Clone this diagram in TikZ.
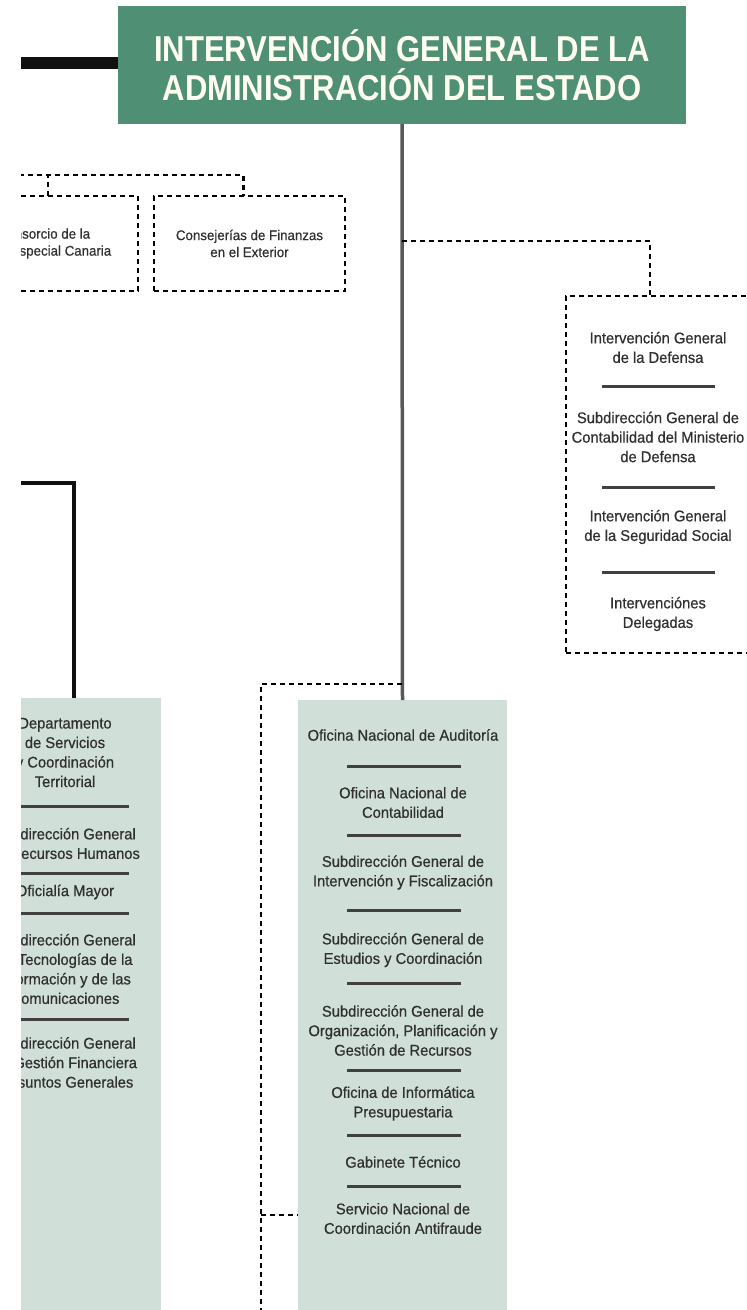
\documentclass[tikz,border=0pt]{standalone}
\usepackage{fontspec}
\setmainfont{Liberation Sans}[FakeStretch=0.95,FakeBold=0.6]
\newfontfamily\titlefont{Liberation Sans}[FakeStretch=0.862,BoldFont={Liberation Sans Bold}]
\definecolor{titlec}{HTML}{4F8F74}
\definecolor{titletext}{HTML}{FFFDF0}
\definecolor{panelc}{HTML}{D0E0D8}
\definecolor{txtc}{HTML}{303030}
\definecolor{sepc}{HTML}{404040}
\definecolor{linec}{HTML}{585858}
\definecolor{barc}{HTML}{111111}
\tikzset{
  every node/.style={inner sep=0pt, outer sep=0pt},
  txt/.style={align=center, text=txtc, font=\fontsize{15.5}{19.5}\selectfont},
  smalltxt/.style={align=center, text=txtc, font=\fontsize{14}{17}\selectfont},
  panel/.style={fill=panelc, draw=none},
  dline/.style={draw=black, dash pattern=on 5pt off 4pt, line width=2.5pt},
  dbox/.style={dline},
  sepline/.style={draw=sepc, line width=3pt},
  mainline/.style={draw=linec, line width=3.5pt},
  blackline/.style={draw=barc, line width=4.5pt},
}
\begin{document}
\begin{tikzpicture}[x=1pt,y=-1pt]
\useasboundingbox (0,0) rectangle (747,1310);
\begin{scope}
\clip (21,0) rectangle (747,1310);

% title
\node[fill=titlec, minimum width=568, minimum height=118, text=titletext, align=center,
      font=\titlefont\bfseries\fontsize{36}{39}\selectfont] (igae) at (402,65)
      {INTERVENCIÓN GENERAL DE LA\\ADMINISTRACIÓN DEL ESTADO};
\coordinate (bl) at (10,62.5);
\draw[draw=barc, line width=12pt] (bl) -- (bl -| igae.west);

% top dashed boxes
\node[dbox, smalltxt, minimum width=191, minimum height=95] (consej) at (249.5,243.5)
      {Consejerías de Finanzas\\en el Exterior};
\node[dbox, minimum width=180, minimum height=95] (consor) at (48,243.5) {};
\node[smalltxt] (consortxt) at (44,243.5) {Consorcio de la\\Zona Especial Canaria};
\coordinate (tl) at (10,175);
\draw[dline] (tl) -| ([xshift=-6pt]consej.north);
\draw[dline] (consor.north) -- (consor.north |- tl);

% panels
\node[panel, minimum width=209, minimum height=620, anchor=north west] (cpanel) at (298,700) {};
\node[panel, minimum width=200, minimum height=620, anchor=north east] (lpanel) at (161,698) {};

% main line
\draw[mainline] (igae.south) -- (cpanel.north);

% right dashed box
\path (igae.south) ++(0,117) coordinate (rj);
\node[dbox, minimum width=186, minimum height=357] (rbox) at (659,474.5) {};
\draw[dline] (rj) -| ([xshift=-9pt]rbox.north);
\node[txt] (r1) at (658,347.5) {Intervención General\\de la Defensa};
\node[txt] (r2) at (658,437) {Subdirección General de\\Contabilidad del Ministerio\\de Defensa};
\node[txt] (r3) at (658,527) {Intervención General\\de la Seguridad Social};
\node[txt] (r4) at (658,614) {Intervenciónes\\Delegadas};
\foreach \yy in {386,487,572} \draw[sepline] (602,\yy) -- (715,\yy);

% centre dashed connector
\path (igae.south) ++(0,560) coordinate (cj);
\coordinate (cb) at (261,1320);
\draw[dline] (cj) -| (cb);
\coordinate (stub) at (261,1215);
\draw[dline] (stub) -- (stub -| cpanel.west);

% centre panel texts
\node[txt] (c1) at (403,735) {Oficina Nacional de Auditoría};
\node[txt] (c2) at (403,802.5) {Oficina Nacional de\\Contabilidad};
\node[txt] (c3) at (403,872.5) {Subdirección General de\\Intervención y Fiscalización};
\node[txt] (c4) at (403,950) {Subdirección General de\\Estudios y Coordinación};
\node[txt] (c5) at (403,1030.5) {Subdirección General de\\Organización, Planificación y\\Gestión de Recursos};
\node[txt] (c6) at (403,1103.5) {Oficina de Informática\\Presupuestaria};
\node[txt] (c7) at (403,1162) {Gabinete Técnico};
\node[txt] (c8) at (403,1218.5) {Servicio Nacional de\\Coordinación Antifraude};
\foreach \yy in {766,835,910,983,1070,1135,1186} \draw[sepline] (347,\yy) -- (461,\yy);

% left panel
\coordinate (lc) at (10,483);
\draw[blackline] (lc) -| ([xshift=13pt]lpanel.north);
\node[txt] (l1) at (65,752.5) {Departamento\\de Servicios\\y Coordinación\\Territorial};
\node[txt] (l2) at (65,843.5) {Subdirección General\\de Recursos Humanos};
\node[txt] (l3) at (65,892) {Oficialía Mayor};
\node[txt] (l4) at (65,969) {Subdirección General\\de Tecnologías de la\\Información y de las\\Comunicaciones};
\node[txt] (l5) at (65,1064) {Subdirección General\\de Gestión Financiera\\y Asuntos Generales};
\foreach \yy in {806,873,913,1019} \draw[sepline] (10,\yy) -- (129,\yy);
\end{scope}
\end{tikzpicture}
\end{document}
